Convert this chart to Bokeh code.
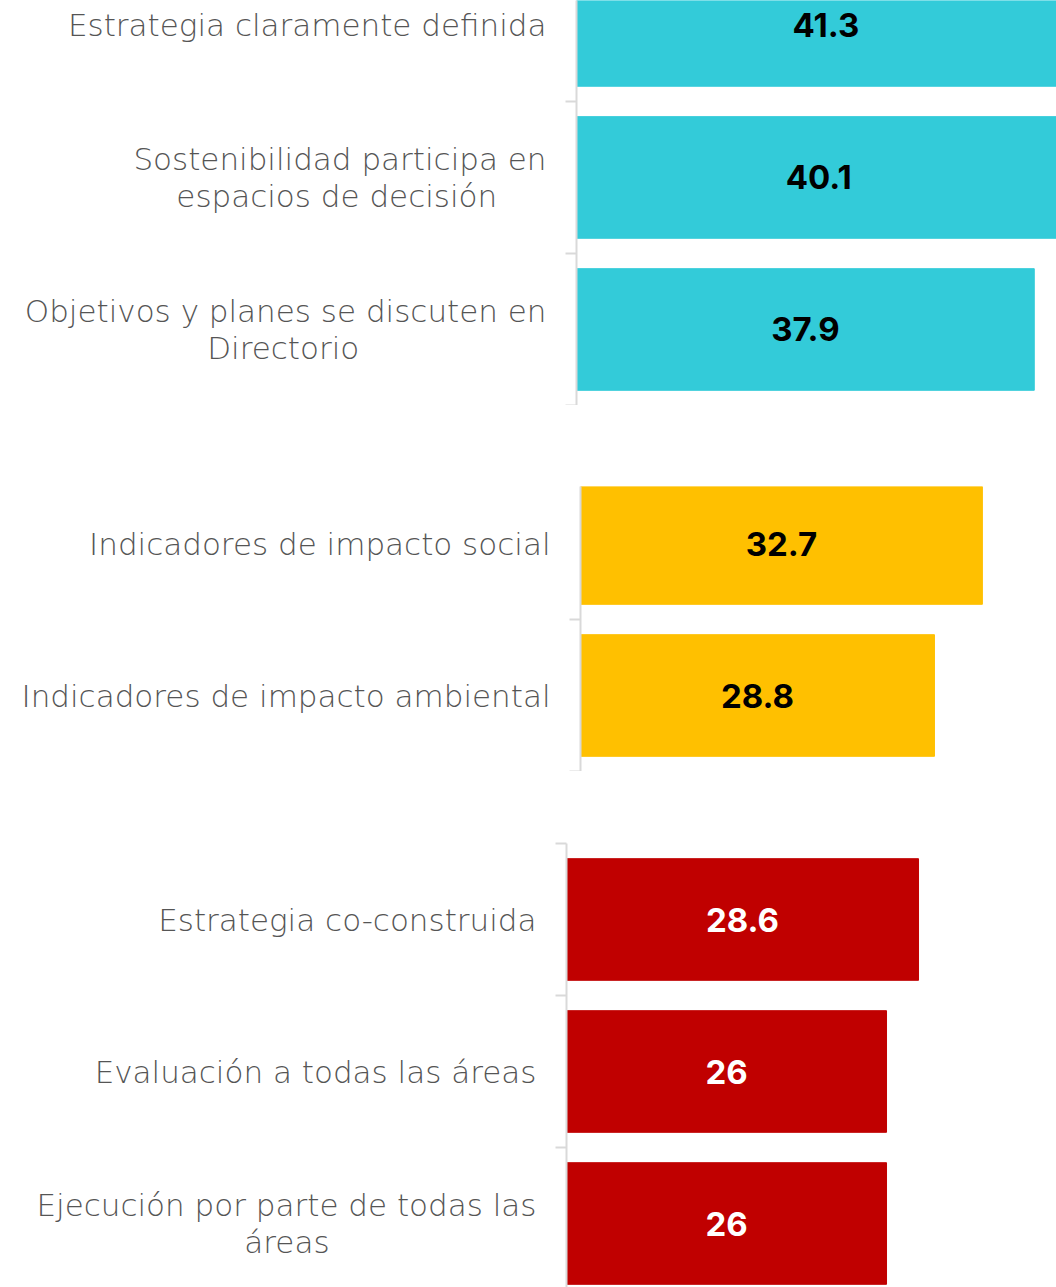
from bokeh.plotting import figure
from bokeh.layouts import column, row
from bokeh.models import FixedTicker, Range1d, Spacer
from bokeh.core.properties import value
from bokeh.embed import file_html
from bokeh.resources import INLINE

NB = "\u00a0"

# ---- data ----
cats1 = ["Estrategia claramente definida",
         "Sostenibilidad participa en\nespacios de decisión" + NB * 5,
         "Objetivos y planes se discuten en\nDirectorio" + NB * 19]
vals1 = [41.3, 40.1, 37.9]

cats2 = ["Indicadores de impacto social",
         "Indicadores de impacto ambiental"]
vals2 = [32.7, 28.8]

cats3 = ["Estrategia co-construida",
         "Evaluación a todas las áreas",
         "Ejecución por parte de todas las\náreas" + NB * 21]
vals3 = [28.6, 26, 26]

bar_colors = ["#33CBD9", "#FFC000", "#C00000"]
value_colors = ["#000000", "#000000", "#FFFFFF"]

LABEL_FONT = "DejaVu Sans Light, Open Sans Light"
VALUE_FONT = "Inter"

BASE_LEFT = 566


def panel(cats, vals, color, vcolor, x_end, y_start, y_end, offset, top_border, height):
    n = len(cats)
    centers = [n - 0.5 - i for i in range(n)]
    bounds = [float(b) for b in range(n + 1)]
    p = figure(width=1056 - offset, height=height,
               x_range=Range1d(0, x_end), y_range=Range1d(y_start, y_end),
               x_axis_location=None, toolbar_location=None,
               output_backend="svg",
               min_border_left=BASE_LEFT, min_border_right=0,
               min_border_top=top_border, min_border_bottom=0)
    p.outline_line_color = None
    p.xgrid.visible = False
    p.ygrid.visible = False
    p.hbar(y=centers, left=0, right=vals, height=0.8, color=color)
    p.text(x=[v / 2 for v in vals], y=centers, text=[f"{v:g}" for v in vals],
           text_align="center", text_baseline="middle",
           text_font=value(VALUE_FONT), text_font_style="bold",
           text_font_size="33px", text_color=vcolor)
    ax = p.yaxis[0]
    ax.ticker = FixedTicker(ticks=centers, minor_ticks=bounds)
    ax.major_label_overrides = {c: lab for c, lab in zip(centers, cats)}
    ax.major_tick_in = 0
    ax.major_tick_out = 0
    ax.minor_tick_in = 0
    ax.minor_tick_out = 11
    ax.minor_tick_line_color = "#D9D9D9"
    ax.minor_tick_line_width = 2
    ax.axis_line_color = "#D9D9D9"
    ax.axis_line_width = 2
    ax.major_label_standoff = 19
    ax.major_label_text_font = LABEL_FONT
    ax.major_label_text_font_size = "31px"
    ax.major_label_text_line_height = 1.05
    ax.major_label_text_color = "#555555"
    if offset:
        return row(Spacer(width=offset, height=height), p, spacing=0)
    return p


p1 = panel(cats1, vals1, bar_colors[0], value_colors[0], 39.74, 0, 2.664, 10, 0, 405)
p2 = panel(cats2, vals2, bar_colors[1], value_colors[1], 38.73, 0, 1.875, 14, 81, 366)
p3 = panel(cats3, vals3, bar_colors[2], value_colors[2], 39.81, 0.079, 3.0, 0, 72, 516)

layout = column(p1, p2, p3, spacing=0)
open("out.html", "w").write(file_html(layout, INLINE))
